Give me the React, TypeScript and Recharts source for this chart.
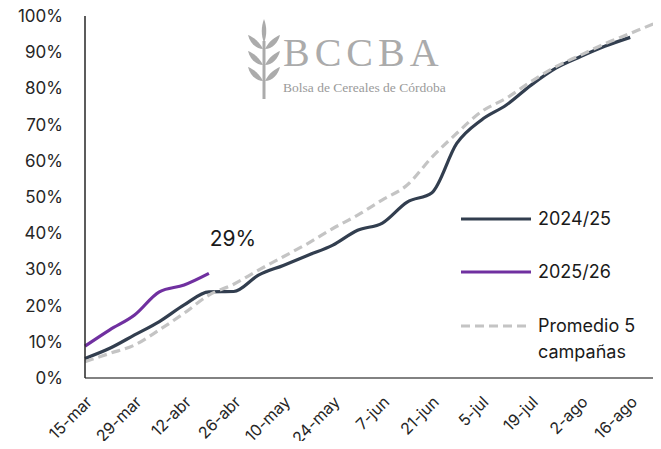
import React from "react";
import { LineChart, Line, XAxis, YAxis } from "recharts";

const dates = [
  "15-mar", "22-mar", "29-mar", "5-abr", "12-abr", "19-abr", "26-abr", "3-may",
  "10-may", "17-may", "24-may", "31-may", "7-jun", "14-jun", "21-jun", "28-jun",
  "5-jul", "12-jul", "19-jul", "26-jul", "2-ago", "9-ago", "16-ago", "23-ago",
];

const campaign2425 = [
  5.4, 8.2, 11.9, 15.6, 20.2, 23.8, 23.9, 28.4, 31.1, 33.9, 36.7, 40.8, 42.8,
  48.6, 51.2, 64.8, 71.3, 75.4, 80.9, 85.6, 88.8, 91.7, 94.1,
];

const campaign2526 = [8.8, 13.3, 17.4, 23.8, 25.7, 28.9];

const average5 = [
  4.5, 6.8, 9.1, 13.3, 17.9, 22.9, 25.9, 29.8, 33.5, 37.2, 41.3, 45.0, 49.2,
  53.3, 61.0, 67.6, 73.6, 77.3, 81.9, 86.0, 89.2, 92.4, 95.2, 98.0,
];

const yTicks = [0, 10, 20, 30, 40, 50, 60, 70, 80, 90, 100];

const data = dates.map((date, i) => ({
  date,
  c2425: campaign2425[i],
  c2526: campaign2526[i],
  avg: average5[i],
}));

const FONT = "Inter, 'Liberation Sans', Arial, sans-serif";
const DARK = "#323E4F";
const PURPLE = "#7030A0";
const GREY = "#C4C4C4";

const LastLabel = (props: any) => {
  const { x, y, index, value } = props;
  if (index !== campaign2526.length - 1) return null;
  return (
    <text x={x + 24} y={y - 27} textAnchor="middle" fontSize={21} fill="#1a1a1a" fontFamily={FONT}>
      {Math.round(value)}%
    </text>
  );
};

const Wheat = () => (
  <svg width={34} height={80} viewBox="0 0 34 80">
    <g fill="#ABABAB">
      <path d="M17 0 C20 8 20 16 17 24 C14 16 14 8 17 0 Z" />
      <path d="M16 30 C12 22 6 18 1 16 C3 24 9 30 16 30 Z" />
      <path d="M18 30 C22 22 28 18 33 16 C31 24 25 30 18 30 Z" />
      <path d="M16 46 C12 38 6 34 1 32 C3 40 9 46 16 46 Z" />
      <path d="M18 46 C22 38 28 34 33 32 C31 40 25 46 18 46 Z" />
      <path d="M16 62 C12 54 6 50 1 48 C3 56 9 62 16 62 Z" />
      <path d="M18 62 C22 54 28 50 33 48 C31 56 25 62 18 62 Z" />
      <rect x={15.5} y={22} width={3} height={58} />
    </g>
  </svg>
);

const legendItems = [
  { label: ["2024/25"], color: DARK, dash: undefined as string | undefined, top: 208 },
  { label: ["2025/26"], color: PURPLE, dash: undefined as string | undefined, top: 261 },
  { label: ["Promedio 5", "campañas"], color: GREY, dash: "9 5", top: 315 },
];

export default function App() {
  return (
    <div style={{ margin: -8, position: "relative", width: 661, height: 449, background: "#fff" }}>
      <div style={{ position: "absolute", left: 247, top: 19 }}>
        <Wheat />
      </div>
      <div
        style={{
          position: "absolute",
          left: 283,
          top: 28,
          fontFamily: "'Liberation Serif', 'DejaVu Serif', serif",
          fontSize: 40,
          letterSpacing: 5,
          color: "#ABABAB",
          lineHeight: "50px",
        }}
      >
        BCCBA
      </div>
      <div
        style={{
          position: "absolute",
          left: 283,
          top: 80,
          fontFamily: "'Liberation Serif', 'DejaVu Serif', serif",
          fontSize: 13.5,
          color: "#9A9A9A",
          whiteSpace: "nowrap",
        }}
      >
        Bolsa de Cereales de Córdoba
      </div>

      <LineChart
        width={661}
        height={449}
        data={data}
        margin={{ top: 16, right: 6, left: 0, bottom: 0 }}
        style={{ position: "absolute", left: 0, top: 0 }}
      >
        <XAxis
          dataKey="date"
          interval={1}
          height={71}
          tickSize={0}
          tickMargin={17}
          axisLine={{ stroke: "#595959", strokeWidth: 1.5 }}
          tickLine={false}
          angle={-45}
          textAnchor="end"
          tick={{ fontSize: 16, fill: "#262626", fontFamily: FONT }}
        />
        <YAxis
          domain={[0, 100]}
          ticks={yTicks}
          width={85}
          tickSize={0}
          tickMargin={22}
          tickLine={false}
          axisLine={{ stroke: "#262626", strokeWidth: 1.5 }}
          tickFormatter={(v: number) => `${v}%`}
          tick={{ fontSize: 17, fill: "#262626", fontFamily: FONT }}
        />
        <Line
          dataKey="c2425"
          type="monotone"
          stroke={DARK}
          strokeWidth={3.2}
          dot={false}
          isAnimationActive={false}
        />
        <Line
          dataKey="c2526"
          type="monotone"
          stroke={PURPLE}
          strokeWidth={3.2}
          dot={false}
          isAnimationActive={false}
          label={<LastLabel />}
        />
        <Line
          dataKey="avg"
          type="monotone"
          stroke={GREY}
          strokeWidth={3.2}
          strokeDasharray="9 5"
          dot={false}
          isAnimationActive={false}
        />
      </LineChart>

      {legendItems.map((item) => (
        <div
          key={item.label[0]}
          style={{ position: "absolute", left: 461, top: item.top, display: "flex", alignItems: "flex-start" }}
        >
          <svg width={70} height={22} style={{ marginRight: 7 }}>
            <line
              x1={0}
              y1={11}
              x2={70}
              y2={11}
              stroke={item.color}
              strokeWidth={3.2}
              strokeDasharray={item.dash}
            />
          </svg>
          <div style={{ fontFamily: FONT, fontSize: 18, color: "#1a1a1a", lineHeight: "26px", marginTop: -2 }}>
            {item.label.map((l) => (
              <div key={l}>{l}</div>
            ))}
          </div>
        </div>
      ))}
    </div>
  );
}
